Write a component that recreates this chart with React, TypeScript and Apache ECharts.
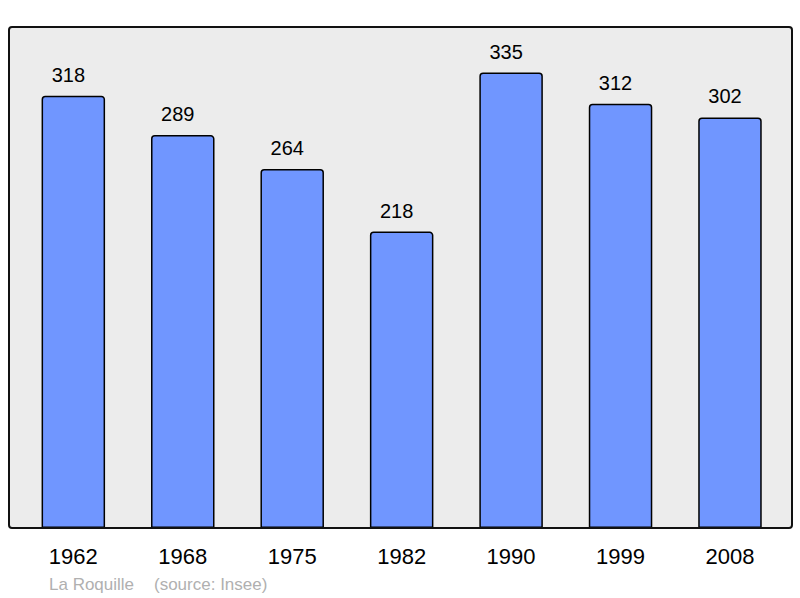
import React, { useEffect, useRef } from "react";
import * as echarts from "echarts";

const years = ["1962", "1968", "1975", "1982", "1990", "1999", "2008"];
const population = [318, 289, 264, 218, 335, 312, 302];
const footerName = "La Roquille";
const footerSource = "(source: Insee)";

export default function App() {
  const ref = useRef<HTMLDivElement>(null);
  useEffect(() => {
    if (!ref.current) return;
    const chart = echarts.init(ref.current, null, { renderer: "svg" });
    chart.setOption({
      animation: false,
      backgroundColor: "#ffffff",
      grid: { left: 18.6, right: 15.3, top: 27, bottom: 70, containLabel: false },
      xAxis: {
        type: "category",
        data: years,
        axisLine: { show: false },
        axisTick: { show: false },
        axisLabel: {
          margin: 17,
          fontSize: 22,
          color: "#000",
          fontFamily: "Liberation Sans, Arial, sans-serif",
        },
      },
      yAxis: {
        type: "value",
        min: 0,
        max: 368.5,
        show: false,
        splitLine: { show: false },
      },
      graphic: [
        {
          type: "rect",
          z: -10,
          silent: true,
          shape: { x: 9, y: 27, width: 783, height: 501, r: 3 },
          style: { fill: "#ececec", stroke: "none" },
        },
        {
          type: "rect",
          z: 100,
          silent: true,
          shape: { x: 9, y: 27, width: 783, height: 501, r: 3 },
          style: { fill: "none", stroke: "#111", lineWidth: 2 },
        },
        {
          type: "text",
          x: 49,
          y: 584,
          style: {
            text: footerName,
            fontSize: 17,
            fill: "#b0b0b0",
            fontFamily: "Liberation Sans, Arial, sans-serif",
            verticalAlign: "middle",
          },
        },
        {
          type: "text",
          x: 154,
          y: 584,
          style: {
            text: footerSource,
            fontSize: 17,
            fill: "#b0b0b0",
            fontFamily: "Liberation Sans, Arial, sans-serif",
            verticalAlign: "middle",
          },
        },
      ],
      series: [
        {
          type: "bar",
          data: population,
          barWidth: 63.5,
          itemStyle: {
            color: "#7096ff",
            borderColor: "#000",
            borderWidth: 1.5,
            borderRadius: [3, 3, 0, 0],
          },
          label: {
            show: true,
            position: "top",
            distance: 11,
            offset: [-5, 0],
            fontSize: 20,
            color: "#000",
            fontFamily: "Liberation Sans, Arial, sans-serif",
          },
        },
      ],
    });
    return () => chart.dispose();
  }, []);
  return <div ref={ref} style={{ width: 800, height: 598, position: "absolute", left: 0, top: 0 }} />;
}
